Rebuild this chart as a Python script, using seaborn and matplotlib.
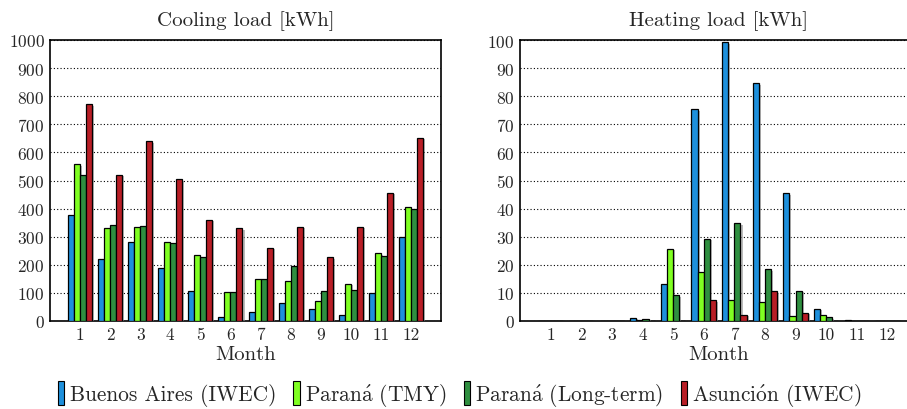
import numpy as np
import pandas as pd
import matplotlib
matplotlib.use("Agg")
import matplotlib.pyplot as plt
import matplotlib.patheffects as pe
from matplotlib.patches import Rectangle
import seaborn as sns

# data
months = [1, 2, 3, 4, 5, 6, 7, 8, 9, 10, 11, 12]
series = ["Buenos Aires (IWEC)", "Paraná (TMY)", "Paraná (Long-term)", "Asunción (IWEC)"]
# same names written with mathtext accents so cmr10 can draw them
legend_labels = ["Buenos Aires (IWEC)", r"Paran$\mathrm{\acute{a}}$ (TMY)",
                 r"Paran$\mathrm{\acute{a}}$ (Long-term)", r"Asunci$\mathrm{\acute{o}}$n (IWEC)"]
colors = ["#1e90dc", "#80ff22", "#2f8f40", "#b81e26"]

cool_ba = [379, 222, 280, 190, 107, 15, 31, 65, 44, 23, 99, 299]
cool_tmy = [557, 331, 336, 281, 235, 103, 151, 143, 71, 133, 242, 406]
cool_lt = [521, 341, 338, 279, 228, 103, 150, 197, 107, 109, 233, 400]
cool_as = [771, 521, 639, 504, 361, 331, 261, 336, 226, 336, 457, 653]

heat_ba = [0, 0, 0, 1.2, 13.3, 75.3, 99.2, 84.6, 45.4, 4.4, 0.3, 0]
heat_tmy = [0, 0, 0, 0.2, 25.8, 17.6, 7.6, 6.8, 1.9, 2.1, 0, 0]
heat_lt = [0, 0, 0, 0.8, 9.1, 29.3, 34.7, 18.4, 10.8, 1.3, 0, 0]
heat_as = [0, 0, 0, 0, 0, 7.4, 2.3, 10.5, 3.0, 0, 0, 0]


def long_df(vals):
    rows = []
    for name, v in zip(series, vals):
        for m, y in zip(months, v):
            rows.append({"Month": m, "Series": name, "Value": y})
    return pd.DataFrame(rows)


df_cool = long_df([cool_ba, cool_tmy, cool_lt, cool_as])
df_heat = long_df([heat_ba, heat_tmy, heat_lt, heat_as])

sns.set_style("white")
plt.rcParams["font.family"] = ["cmr10", "DejaVu Serif"]
plt.rcParams["axes.formatter.use_mathtext"] = True
plt.rcParams["mathtext.fontset"] = "cm"

fig = plt.figure(figsize=(9.07, 4.1), dpi=100)
ax1 = fig.add_axes([50 / 907, 88 / 410, 391 / 907, 281 / 410])
ax2 = fig.add_axes([520 / 907, 88 / 410, 398 / 907, 281 / 410])

shadow = [pe.SimplePatchShadow(offset=(1.5, -1.2), shadow_rgbFace="0.55", alpha=0.6), pe.Normal()]

for ax, df, title, top in [(ax1, df_cool, "Cooling load [kWh]", 1000),
                           (ax2, df_heat, "Heating load [kWh]", 100)]:
    sns.barplot(data=df, x="Month", y="Value", hue="Series", palette=colors,
                width=0.8, edgecolor="black", linewidth=0.9, saturation=1,
                ax=ax, legend=False, zorder=3)
    for p in ax.patches:
        p.set_path_effects(shadow)
    ax.set_xlim(-1, 12)
    ax.set_ylim(0, top)
    ax.set_yticks(np.linspace(0, top, 11))
    ax.set_title(title, fontsize=15, pad=11)
    ax.set_xlabel("Month", fontsize=15, labelpad=2)
    ax.set_ylabel("")
    ax.tick_params(axis="both", length=0, labelsize=12.5, pad=4)
    ax.yaxis.grid(True, linestyle=(0, (1, 2)), color="black", linewidth=0.8, zorder=0)
    ax.xaxis.grid(False)
    for s in ax.spines.values():
        s.set_color("black")
        s.set_linewidth(1.2)
        s.set_visible(True)

handles = [Rectangle((0, 0), 1, 1, facecolor=c, edgecolor="black", linewidth=0.8) for c in colors]
fig.legend(handles, legend_labels, loc="center", bbox_to_anchor=(0.507, 0.035), ncol=4,
           frameon=False, fontsize=15.4, handlelength=0.3, handleheight=1.3,
           handletextpad=0.25, columnspacing=0.8)

fig.savefig("out.png", dpi=100)
